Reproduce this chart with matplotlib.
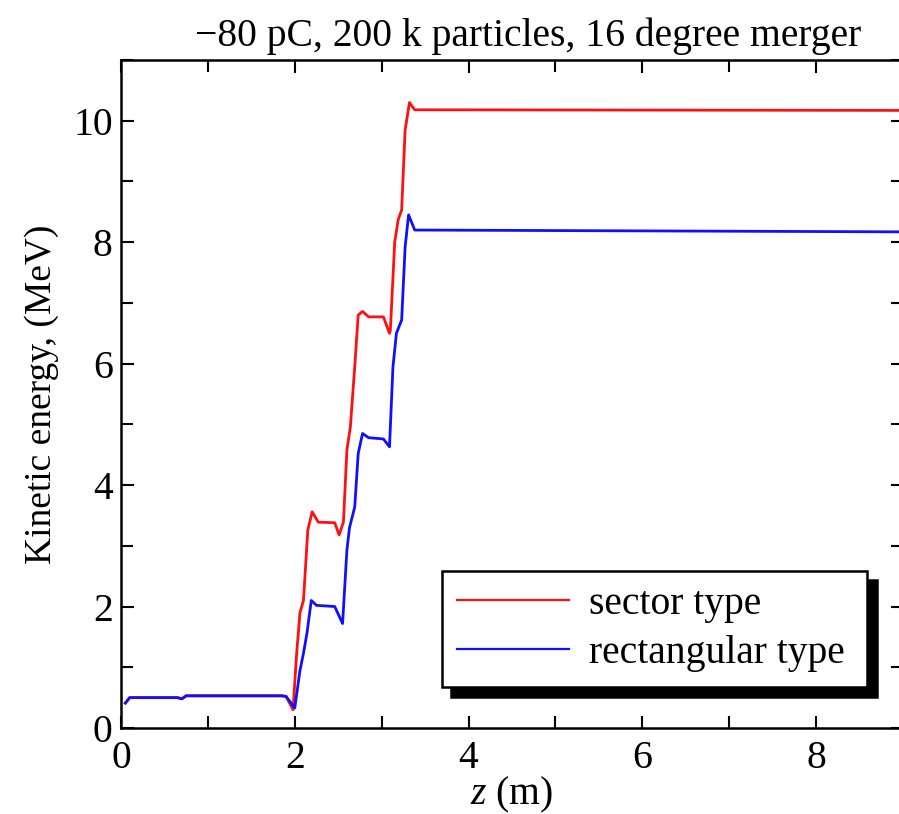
import matplotlib
matplotlib.use('Agg')
from matplotlib import pyplot as plt
from matplotlib.ticker import MultipleLocator
import numpy as np

# 데이터
z_sector = [0.05, 0.1, 0.65, 0.7, 0.75, 1.85, 1.9, 1.98, 2.02, 2.06, 2.1, 2.15, 2.2, 2.27,
            2.46, 2.51, 2.56, 2.6, 2.64, 2.69, 2.73, 2.78, 2.85, 3.02, 3.09, 3.1, 3.15,
            3.19, 3.23, 3.27, 3.32, 3.38, 9.0]
ke_sector = [0.41, 0.5, 0.5, 0.48, 0.53, 0.53, 0.52, 0.3, 1.2, 1.9, 2.1, 3.26, 3.56, 3.39,
             3.38, 3.18, 3.39, 4.58, 4.96, 5.95, 6.8, 6.86, 6.77, 6.77, 6.5, 6.55, 8.0,
             8.37, 8.53, 9.85, 10.3, 10.18, 10.17]

z_rect = [0.05, 0.1, 0.65, 0.7, 0.75, 1.85, 1.9, 2.0, 2.06, 2.1, 2.14, 2.19, 2.25,
          2.46, 2.55, 2.6, 2.63, 2.69, 2.73, 2.78, 2.85, 3.02, 3.09, 3.13, 3.17,
          3.23, 3.27, 3.31, 3.38, 9.0]
ke_rect = [0.41, 0.5, 0.5, 0.48, 0.53, 0.53, 0.52, 0.33, 0.95, 1.23, 1.56, 2.1, 2.02,
           2.0, 1.72, 2.93, 3.3, 3.64, 4.52, 4.85, 4.78, 4.76, 4.63, 5.95, 6.5,
           6.72, 7.92, 8.45, 8.2, 8.17]

labels = ['sector type', 'rectangular type']
title = '\u221280 pC, 200 k particles, 16 degree merger'

plt.rcParams['font.family'] = ['Liberation Serif', 'DejaVu Serif']
plt.rcParams['mathtext.fontset'] = 'custom'
plt.rcParams['mathtext.it'] = 'Liberation Serif:italic'
plt.rcParams['mathtext.rm'] = 'Liberation Serif'

fs = 28.5

fig = plt.figure(figsize=(8.99, 8.14), dpi=100)
ax = fig.add_axes([121 / 899, 86 / 814, 782 / 899, 668 / 814])

ax.plot(z_sector, ke_sector, color='#ff1010', lw=2, label=labels[0])
ax.plot(z_rect, ke_rect, color='#1010ff', lw=2, label=labels[1])

ax.set_xlim(0, 9)
ax.set_ylim(0, 11)
ax.xaxis.set_major_locator(MultipleLocator(2))
ax.xaxis.set_minor_locator(MultipleLocator(1))
ax.yaxis.set_major_locator(MultipleLocator(2))
ax.yaxis.set_minor_locator(MultipleLocator(1))
ax.tick_params(which='both', direction='in', top=True, right=True,
               width=1.5, labelsize=fs, pad=6)
ax.tick_params(axis='x', which='both', pad=9)
ax.tick_params(which='major', length=9)
ax.tick_params(which='minor', length=8.5)
for s in ax.spines.values():
    s.set_linewidth(1.8)

ax.set_xlabel('$z$ (m)', fontsize=fs, labelpad=-2)
ax.set_ylabel('Kinetic energy, (MeV)', fontsize=27, labelpad=10)
ax.set_title(title, fontsize=fs, pad=10, x=0.52)

leg = ax.legend(loc='lower left', bbox_to_anchor=(0.41, 0.061, 0.544, 0.171),
                mode='expand', borderaxespad=0, fontsize=fs, handlelength=2.85,
                handletextpad=0.5, fancybox=False, framealpha=1, edgecolor='black',
                labelspacing=0.32, borderpad=0.38,
                shadow={'ox': 7, 'oy': -7, 'facecolor': 'black',
                        'edgecolor': 'black', 'alpha': 1})
leg.get_frame().set_linewidth(1.8)
for line in leg.get_lines():
    line.set_linewidth(1.6)

plt.savefig('out.png', dpi=100)
plt.close()
